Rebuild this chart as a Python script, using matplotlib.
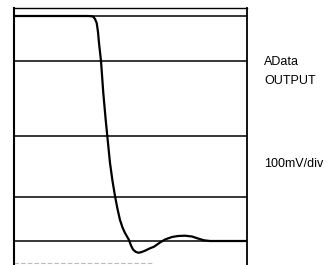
import matplotlib
matplotlib.use("Agg")
import matplotlib.pyplot as plt

# Waveform samples (time in arbitrary screen units, amplitude relative to baseline)
t = [0, 74, 78, 79.5, 81, 82.7, 84, 85, 87, 89.3, 91.7, 93.3, 94.7, 96, 98.5, 101, 103.5, 106,
     108.5, 111, 115, 117, 119, 121.5, 124, 127, 131, 136, 140, 146, 151, 158, 164, 171, 178,
     184, 190, 196, 232]
v = [225, 225, 224.7, 224, 222, 218, 209, 198, 180, 148, 121, 105, 91, 78, 60, 45, 32, 21,
     13.5, 8, 1, -4.5, -8.5, -10.7, -11.7, -11.3, -9.7, -7.3, -5.7, -1.5, 1.5, 4, 5, 5.3, 4.5,
     2.5, 0.7, 0, 0]
grid_levels = [225, 180, 105, 44, 0]
labels = ["AData", "OUTPUT", "100mV/div"]

W, H = 333, 265
fig = plt.figure(figsize=(W / 100, H / 100), dpi=100)
fig.patch.set_facecolor("white")
x0, x1 = 14, 246.5
y_top, y_bot = 8, 265
ax = fig.add_axes([x0 / W, 1 - y_bot / H, (x1 - x0) / W, (y_bot - y_top) / H])
ax.set_xlim(0, x1 - x0)
ax.set_ylim(241 - y_bot, 241 - y_top)
for lv in grid_levels:
    ax.axhline(lv, color="black", lw=1.1, zorder=1)
ax.plot(t, v, color="black", lw=1.6, zorder=2, solid_capstyle="round", solid_joinstyle="round")
ax.axhline(241 - 263, xmin=0, xmax=0.6, color="#bbbbbb", lw=0.8, ls=(0, (4, 2)))
ax.set_xticks([])
ax.set_yticks([])
ax.spines["bottom"].set_visible(False)
ax.spines["left"].set_linewidth(1.5)
ax.spines["right"].set_linewidth(1.3)
ax.spines["top"].set_linewidth(1.0)

fp = dict(family=["Liberation Sans", "DejaVu Sans"], fontsize=9, color="black", va="center", ha="left")
fig.text(264 / W, 1 - 62 / H, labels[0], **fp)
fig.text(264 / W, 1 - 81 / H, labels[1], **fp)
fig.text(264 / W, 1 - 164 / H, labels[2], **fp)

fig.savefig("out.png", dpi=100, facecolor="white")
